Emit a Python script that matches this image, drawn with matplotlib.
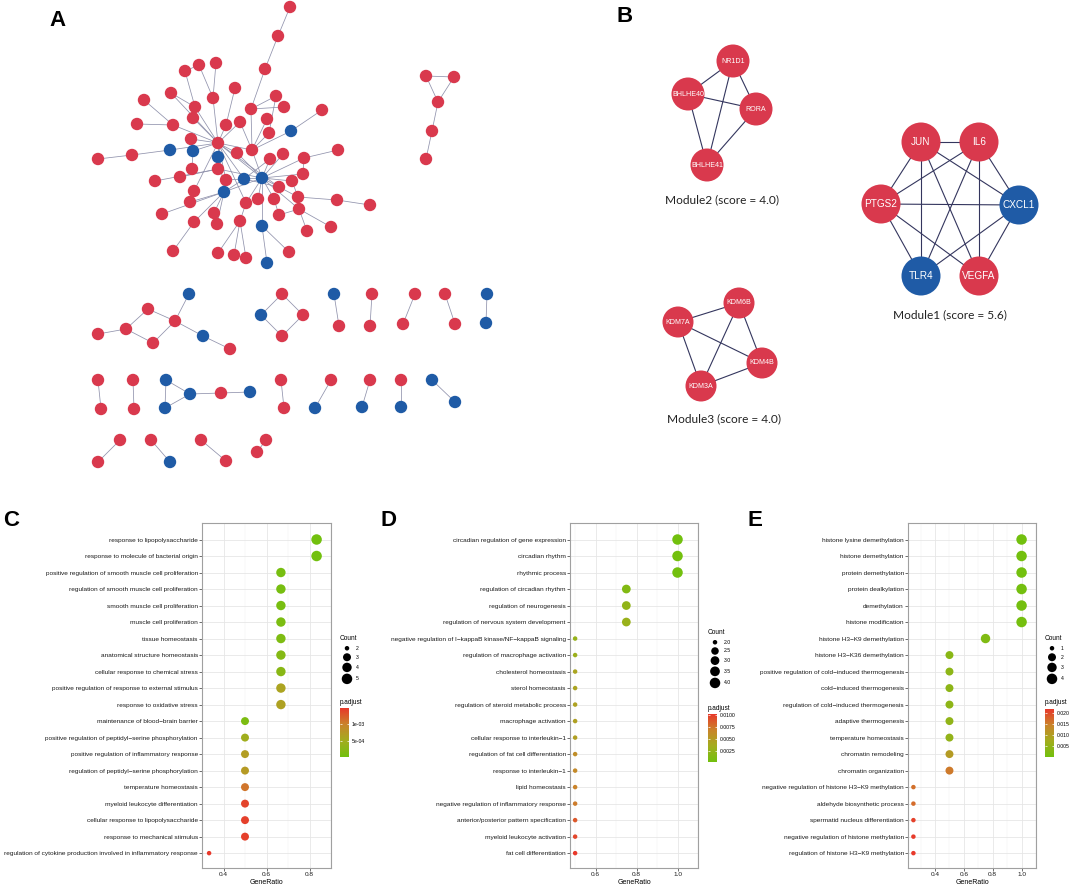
import matplotlib.pyplot as plt
import numpy as np
from matplotlib.patches import Circle
from matplotlib.collections import LineCollection
from matplotlib.colors import LinearSegmentedColormap, Normalize

plt.rcParams['font.family'] = ['Liberation Sans', 'DejaVu Sans']

W, H = 1072, 886

# ---------------- GO enrichment data (panels C, D, E) ----------------
c_terms = ["response to lipopolysaccharide", "response to molecule of bacterial origin",
           "positive regulation of smooth muscle cell proliferation",
           "regulation of smooth muscle cell proliferation", "smooth muscle cell proliferation",
           "muscle cell proliferation", "tissue homeostasis", "anatomical structure homeostasis",
           "cellular response to chemical stress",
           "positive regulation of response to external stimulus", "response to oxidative stress",
           "maintenance of blood\u2212brain barrier",
           "positive regulation of peptidyl\u2212serine phosphorylation",
           "positive regulation of inflammatory response",
           "regulation of peptidyl\u2212serine phosphorylation", "temperature homeostasis",
           "myeloid leukocyte differentiation", "cellular response to lipopolysaccharide",
           "response to mechanical stimulus",
           "regulation of cytokine production involved in inflammatory response"]
c_ratio = [0.833, 0.833, 0.667, 0.667, 0.667, 0.667, 0.667, 0.667, 0.667, 0.667, 0.667,
           0.5, 0.5, 0.5, 0.5, 0.5, 0.5, 0.5, 0.5, 0.333]
c_count = [5, 5, 4, 4, 4, 4, 4, 4, 4, 4, 4, 3, 3, 3, 3, 3, 3, 3, 3, 2]
c_padj = [1.2e-5, 1.5e-5, 6e-5, 7e-5, 8e-5, 1e-4, 1.3e-4, 2e-4, 2.4e-4, 6.2e-4, 6.5e-4,
          1.2e-4, 4.8e-4, 7e-4, 7.4e-4, 1.1e-3, 1.42e-3, 1.45e-3, 1.45e-3, 1.5e-3]

d_terms = ["circadian regulation of gene expression", "circadian rhythm", "rhythmic process",
           "regulation of circadian rhythm", "regulation of neurogenesis",
           "regulation of nervous system development",
           "negative regulation of I\u2212kappaB kinase/NF\u2212kappaB signaling",
           "regulation of macrophage activation", "cholesterol homeostasis", "sterol homeostasis",
           "regulation of steroid metabolic process", "macrophage activation",
           "cellular response to interleukin\u22121", "regulation of fat cell differentiation",
           "response to interleukin\u22121", "lipid homeostasis",
           "negative regulation of inflammatory response",
           "anterior/posterior pattern specification", "myeloid leukocyte activation",
           "fat cell differentiation"]
d_ratio = [1.0, 1.0, 1.0, 0.75, 0.75, 0.75] + [0.5] * 14
d_count = [4, 4, 4, 3, 3, 3] + [2] * 14
d_padj = [1e-4, 1.5e-4, 2e-4, 1.2e-3, 2.2e-3, 2.8e-3, 2.6e-3, 3e-3, 4.1e-3, 4.2e-3,
          4.4e-3, 4.5e-3, 4.6e-3, 6e-3, 6.3e-3, 6.8e-3, 7.2e-3, 8.8e-3, 9.6e-3, 1.02e-2]

e_terms = ["histone lysine demethylation", "histone demethylation", "protein demethylation",
           "protein dealkylation", "demethylation", "histone modification",
           "histone H3\u2212K9 demethylation", "histone H3\u2212K36 demethylation",
           "positive regulation of cold\u2212induced thermogenesis", "cold\u2212induced thermogenesis",
           "regulation of cold\u2212induced thermogenesis", "adaptive thermogenesis",
           "temperature homeostasis", "chromatin remodeling", "chromatin organization",
           "negative regulation of histone H3\u2212K9 methylation",
           "aldehyde biosynthetic process", "spermatid nucleus differentiation",
           "negative regulation of histone methylation",
           "regulation of histone H3\u2212K9 methylation"]
e_ratio = [1.0] * 6 + [0.75] + [0.5] * 8 + [0.25] * 5
e_count = [4] * 6 + [3] + [2] * 8 + [1] * 5
e_padj = [1e-4, 2e-4, 3e-4, 4e-4, 5e-4, 6e-4, 2.2e-3, 3.5e-3, 4e-3, 4.1e-3, 4.2e-3,
          4.6e-3, 5e-3, 1.05e-2, 1.55e-2, 1.65e-2, 1.68e-2, 2.1e-2, 2.15e-2, 2.18e-2]

# ---------------- PPI network (panel A) ----------------
# main component: (x, y, is_blue)
main_nodes = [(290, 7, 0), (278, 36, 0), (265, 69, 0), (251, 109, 0), (276, 96, 0),
              (284, 107, 0), (267, 119, 0), (269, 133, 0), (240, 122, 0), (235, 88, 0),
              (226, 125, 0), (213, 98, 0), (216, 63, 0), (199, 65, 0), (185, 71, 0),
              (195, 107, 0), (171, 93, 0), (144, 100, 0), (193, 118, 0), (137, 124, 0),
              (173, 125, 0), (218, 143, 0), (191, 139, 0), (193, 151, 1), (170, 150, 1),
              (132, 155, 0), (98, 159, 0), (218, 157, 1), (237, 153, 0), (252, 150, 0),
              (291, 131, 1), (322, 110, 0), (270, 159, 0), (283, 154, 0), (304, 158, 0),
              (338, 150, 0), (192, 169, 0), (218, 169, 0), (180, 177, 0), (155, 181, 0),
              (226, 180, 0), (244, 179, 1), (262, 178, 1), (303, 174, 0), (292, 181, 0),
              (279, 187, 0), (194, 191, 0), (224, 192, 1), (190, 202, 0), (246, 203, 0),
              (258, 199, 0), (274, 199, 0), (298, 197, 0), (337, 200, 0), (370, 205, 0),
              (299, 209, 0), (279, 215, 0), (162, 214, 0), (214, 213, 0), (194, 222, 0),
              (217, 224, 0), (240, 221, 0), (262, 226, 1), (307, 231, 0), (331, 227, 0),
              (173, 251, 0), (218, 253, 0), (234, 255, 0), (246, 258, 0), (267, 263, 1),
              (289, 252, 0)]
main_edges = [(1, 2), (2, 3), (3, 4), (4, 5), (4, 6), (5, 8), (4, 30), (7, 30), (13, 12),
              (14, 12), (14, 15), (15, 16), (12, 22), (16, 22), (17, 16), (17, 22), (18, 21),
              (20, 21), (21, 22), (19, 22), (23, 22), (10, 11), (11, 22), (9, 30), (8, 30),
              (31, 30), (32, 31), (27, 26), (26, 25), (25, 22), (24, 22), (28, 22), (29, 22),
              (22, 42), (22, 43), (22, 30), (22, 47), (22, 41), (22, 46), (22, 50), (37, 24),
              (38, 40), (39, 38), (43, 44), (43, 35), (43, 34), (43, 33), (43, 45), (43, 52),
              (43, 53), (43, 51), (43, 50), (43, 41), (43, 38), (43, 56), (43, 29), (43, 30),
              (36, 35), (53, 54), (54, 55), (56, 64), (57, 52), (57, 56), (65, 56), (45, 53),
              (48, 22), (48, 49), (48, 58), (48, 59), (48, 61), (48, 43), (48, 42), (47, 49),
              (60, 66), (60, 48), (62, 50), (62, 67), (62, 68), (62, 69), (63, 43), (63, 70),
              (63, 71), (42, 33), (42, 46), (44, 35), (9, 22)]
small_components = [
    ([(426, 76, 0), (454, 77, 0), (438, 102, 0), (432, 131, 0), (426, 159, 0)],
     [(1, 2), (1, 3), (2, 3), (3, 4), (4, 5)]),
    ([(98, 334, 0), (126, 329, 0), (148, 309, 0), (153, 343, 0), (175, 321, 0),
      (189, 294, 1), (203, 336, 1), (230, 349, 0)],
     [(1, 2), (2, 3), (2, 4), (3, 5), (4, 5), (5, 6), (5, 7), (7, 8)]),
    ([(282, 294, 0), (261, 315, 1), (303, 315, 0), (282, 336, 0)],
     [(1, 2), (1, 3), (2, 4), (3, 4)]),
    ([(334, 294, 1), (339, 326, 0)], [(1, 2)]),
    ([(372, 294, 0), (370, 326, 0)], [(1, 2)]),
    ([(415, 294, 0), (403, 324, 0)], [(1, 2)]),
    ([(445, 294, 0), (455, 324, 0)], [(1, 2)]),
    ([(487, 294, 1), (486, 323, 1)], [(1, 2)]),
    ([(98, 380, 0), (101, 409, 0)], [(1, 2)]),
    ([(133, 380, 0), (134, 409, 0)], [(1, 2)]),
    ([(166, 380, 1), (165, 408, 1), (190, 394, 1), (221, 393, 0), (250, 392, 1)],
     [(1, 2), (1, 3), (2, 3), (3, 4), (4, 5)]),
    ([(281, 380, 0), (284, 408, 0)], [(1, 2)]),
    ([(331, 380, 0), (315, 408, 1)], [(1, 2)]),
    ([(370, 380, 0), (362, 407, 1)], [(1, 2)]),
    ([(401, 380, 0), (401, 407, 1)], [(1, 2)]),
    ([(432, 380, 1), (455, 402, 1)], [(1, 2)]),
    ([(120, 440, 0), (98, 462, 0)], [(1, 2)]),
    ([(151, 440, 0), (170, 462, 1)], [(1, 2)]),
    ([(201, 440, 0), (226, 461, 0)], [(1, 2)]),
    ([(266, 440, 0), (257, 452, 0)], [(1, 2)]),
]

# ---------------- MCODE modules (panel B) ----------------
modules = [
    ("Module2 (score = 4.0)", (722, 200), 16.5, 5.1,
     [("NR1D1", 733, 61, 0), ("BHLHE40", 688, 94, 0), ("RORA", 756, 109, 0),
      ("BHLHE41", 707, 165, 0)],
     [(0, 1), (0, 2), (0, 3), (1, 2), (1, 3), (2, 3)]),
    ("Module3 (score = 4.0)", (724, 419), 15.5, 5.1,
     [("KDM6B", 739, 303, 0), ("KDM7A", 678, 322, 0), ("KDM4B", 762, 363, 0),
      ("KDM3A", 701, 386, 0)],
     [(0, 1), (0, 2), (0, 3), (1, 2), (1, 3), (2, 3)]),
    ("Module1 (score = 5.6)", (950, 315), 19.5, 7.2,
     [("JUN", 921, 142, 0), ("IL6", 979, 142, 0), ("PTGS2", 881, 204, 0),
      ("CXCL1", 1019, 205, 1), ("TLR4", 921, 276, 1), ("VEGFA", 979, 276, 0)],
     [(0, 1), (0, 2), (0, 3), (0, 4), (0, 5), (1, 2), (1, 3), (1, 4), (1, 5), (2, 3),
      (2, 4), (2, 5), (3, 4), (3, 5)]),
]

RED = "#D9394D"
BLUE = "#1F5BA6"
cmap = LinearSegmentedColormap.from_list(
    "padj", ["#72C00E", "#A3AD1E", "#CA842B", "#E8392B"])

fig = plt.figure(figsize=(W / 100, H / 100), dpi=100)
ax0 = fig.add_axes([0, 0, 1, 1])
ax0.set_xlim(0, W)
ax0.set_ylim(H, 0)
ax0.axis("off")

# panel A
comps = [(main_nodes, main_edges)] + small_components
for nodes, edges in comps:
    segs = [[nodes[i - 1][:2], nodes[j - 1][:2]] for i, j in edges]
    ax0.add_collection(LineCollection(segs, colors="#9092AC", linewidths=0.55, zorder=1))
    for x, y, b in nodes:
        ax0.add_patch(Circle((x, y), 6.2, color=BLUE if b else RED, lw=0, zorder=2))

# panel B
for caption, (cx, cy), rad, fs, nodes, edges in modules:
    segs = [[nodes[i][1:3], nodes[j][1:3]] for i, j in edges]
    ax0.add_collection(LineCollection(segs, colors="#34365E", linewidths=0.8, zorder=1))
    for name, x, y, b in nodes:
        ax0.add_patch(Circle((x, y), rad, color=BLUE if b else RED, lw=0, zorder=2))
        ax0.text(x, y, name, color="white", fontsize=fs, ha="center", va="center", zorder=3)
    ax0.text(cx, cy, caption, fontsize=8.6, ha="center", va="center",
             family=["Lato", "DejaVu Sans"], color="#222222")

# panel letters
for lab, x, y in [("A", 58, 20), ("B", 625, 16), ("C", 11, 521), ("D", 388, 521),
                  ("E", 755, 521)]:
    ax0.text(x, y, lab, fontsize=16, fontweight="bold", ha="center", va="center")


def dot_diam(c, cmin, cmax):
    t = (np.asarray(c, float) - cmin) / (cmax - cmin)
    return 4.5 + 6.0 * np.sqrt(t)


def dotplot(rect, terms, ratio, count, padj, xlim, xticks, vmin, vmax):
    l, t, r, b = rect
    ax = fig.add_axes([l / W, 1 - b / H, (r - l) / W, (b - t) / H])
    n = len(terms)
    y = np.arange(n, 0, -1)
    d = dot_diam(count, min(count), max(count))
    ax.scatter(ratio, y, s=(d * 0.72) ** 2, c=padj, cmap=cmap,
               norm=Normalize(vmin, vmax), linewidths=0, zorder=3)
    ax.set_xlim(xlim)
    ax.set_ylim(0.1, n + 1.0)
    ax.set_yticks(y)
    ax.set_yticklabels(terms)
    ax.set_xticks(xticks)
    ax.set_xticklabels([f"{v:.1f}" for v in xticks])
    mids = np.arange(xticks[0] - 0.1, xticks[-1] + 0.15, 0.2)
    ax.set_xticks(mids, minor=True)
    ax.grid(True, which="major", color="#E6E6E6", lw=0.6)
    ax.grid(True, which="minor", axis="x", color="#F0F0F0", lw=0.35)
    ax.set_axisbelow(True)
    ax.tick_params(which="minor", length=0)
    ax.tick_params(which="major", labelsize=4.65, length=2, width=0.5, color="#333333",
                   pad=1, labelcolor="#1A1A1A")
    for s in ax.spines.values():
        s.set_color("#A0A0A0")
        s.set_linewidth(0.8)
    ax.set_xlabel("GeneRatio", fontsize=5.0, labelpad=1)
    return ax


def legend(x, title_y, counts, cb_rect, vmin, vmax, ticks, ticklabels):
    ax0.text(x - 1, title_y, "Count", fontsize=4.7, ha="left", va="center")
    d = dot_diam(counts, min(counts), max(counts))
    yy = title_y + 5
    for c, di in zip(counts, d):
        h = max(8.5, di + 1.5)
        ax0.add_patch(Circle((x + 6, yy + h / 2), di / 2, color="black", lw=0))
        lab = f"{c:.1f}" if isinstance(c, float) else str(c)
        ax0.text(x + 15, yy + h / 2, lab, fontsize=3.7, ha="left", va="center")
        yy += h
    l, t, r, b = cb_rect
    ax0.text(x - 1, t - 6, "p.adjust", fontsize=4.7, ha="left", va="center")
    cax = fig.add_axes([l / W, 1 - b / H, (r - l) / W, (b - t) / H])
    grad = np.linspace(vmin, vmax, 200).reshape(-1, 1)
    cax.imshow(grad, cmap=cmap, norm=Normalize(vmin, vmax), origin="lower",
               extent=[0, 1, vmin, vmax], aspect="auto")
    cax.hlines(ticks, 0, 0.2, color="white", lw=0.5)
    cax.hlines(ticks, 0.8, 1, color="white", lw=0.5)
    cax.set_xticks([])
    cax.yaxis.tick_right()
    cax.set_yticks(ticks)
    cax.set_yticklabels(ticklabels)
    cax.tick_params(length=0, labelsize=3.7, pad=2)
    for s in cax.spines.values():
        s.set_visible(False)


dotplot((202, 523, 331, 868), c_terms, c_ratio, c_count, c_padj, (0.308, 0.858),
        [0.4, 0.6, 0.8], 1.2e-5, 1.5e-3)
dotplot((570, 523, 698, 868), d_terms, d_ratio, d_count, d_padj, (0.475, 1.025),
        [0.6, 0.8, 1.0], 1e-4, 1.02e-2)
dotplot((908, 523, 1036, 868), e_terms, e_ratio, e_count, e_padj, (0.2125, 1.0375),
        [0.4, 0.6, 0.8, 1.0], 1e-4, 2.18e-2)

legend(341, 639, [2, 3, 4, 5], (340, 708, 349, 757), 1.2e-5, 1.5e-3,
       [5e-4, 1e-3], ["5e-04", "1e-03"])
legend(709, 633, [2.0, 2.5, 3.0, 3.5, 4.0], (708, 714, 717, 762), 1e-4, 1.02e-2,
       [0.0025, 0.005, 0.0075, 0.01], ["0.0025", "0.0050", "0.0075", "0.0100"])
legend(1046, 639, [1, 2, 3, 4], (1045, 709, 1054, 757), 1e-4, 2.18e-2,
       [0.005, 0.01, 0.015, 0.02], ["0.005", "0.010", "0.015", "0.020"])

fig.savefig("out.png", dpi=100)
